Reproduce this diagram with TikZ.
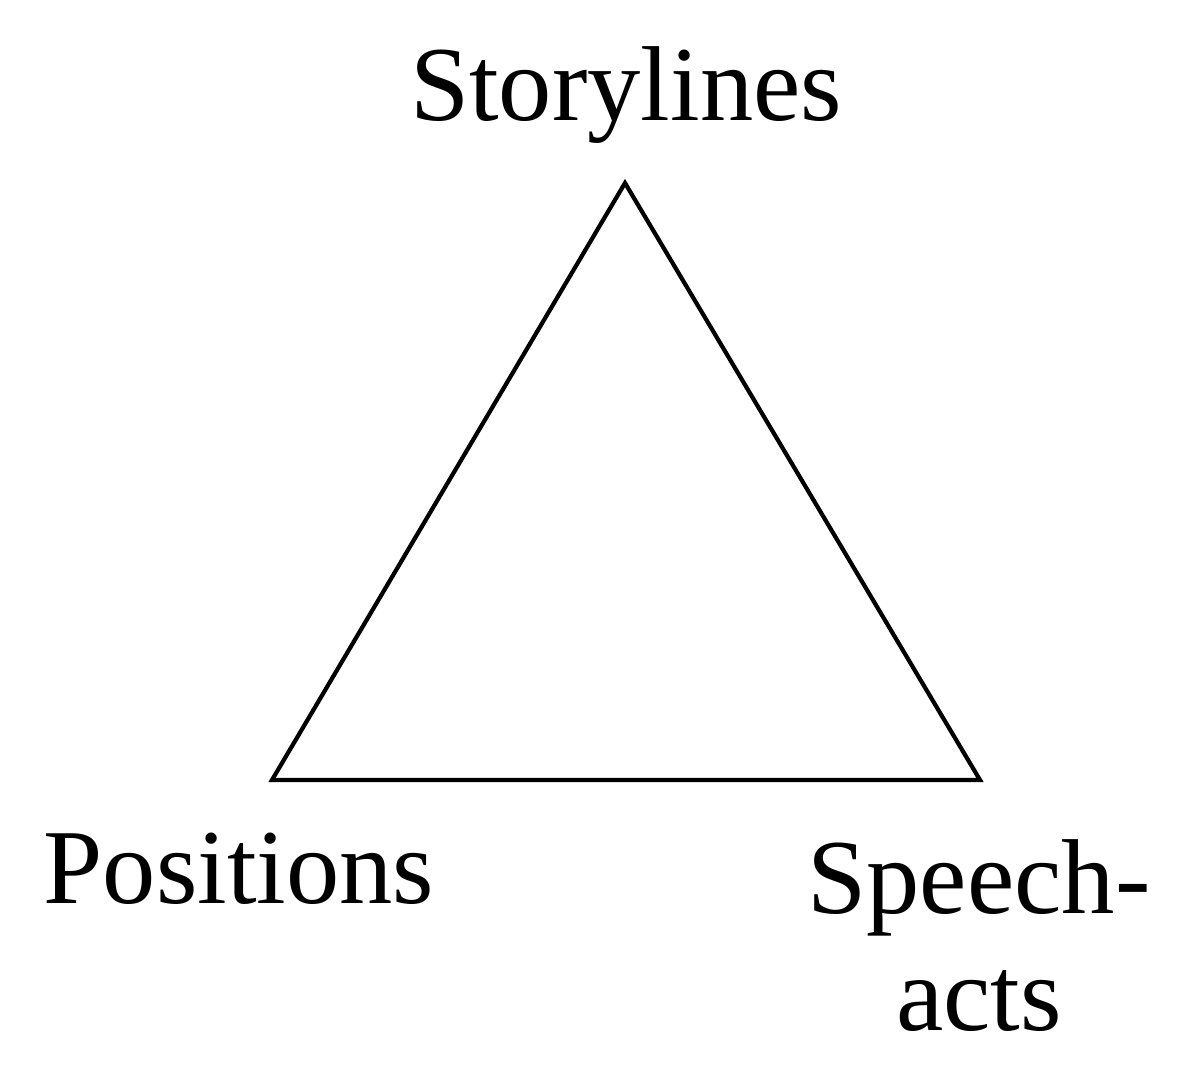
\documentclass[tikz,border=0pt]{standalone}
\usepackage{fontspec}
\setmainfont{Liberation Serif}

\begin{document}
\begin{tikzpicture}[word/.style={anchor=base, inner sep=0pt, align=center, font=\fontsize{30.3}{33.2}\selectfont}]
	\useasboundingbox (0, 0) rectangle (12, 10.84);
	\coordinate (top) at (6.25, 9.01);
	\coordinate (left) at (2.72, 3.04);
	\coordinate (right) at (9.80, 3.04);
	\draw[line width=1.2pt] (top) -- (left) -- (right) -- cycle;
	\node[word] (story) at (6.26, 9.64) {Storylines};
	\node[word] (pos) at (2.39, 1.81) {Positions};
	\node[word] (speech) at (9.79, 0.54) {Speech-\\acts};
\end{tikzpicture}
\end{document}
